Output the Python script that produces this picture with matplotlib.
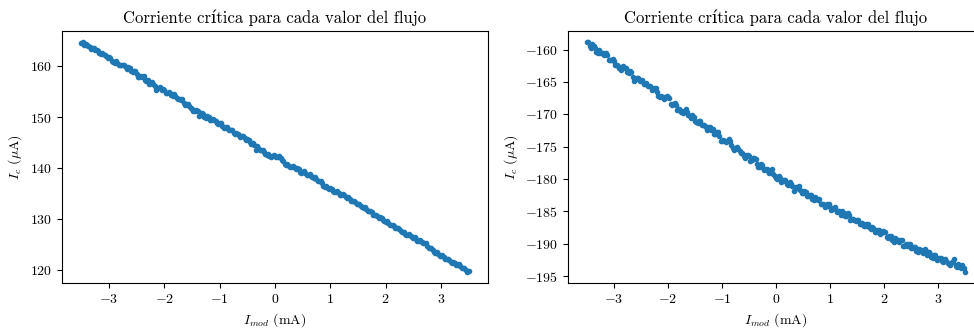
import numpy as np
import matplotlib
matplotlib.use("Agg")
import matplotlib.pyplot as plt

# ---- data ----
# I_mod sweep (mA): main grid and interleaved half-step grid
x_start, x_end = -3.5, 3.5
x_start_mid, x_end_mid = -3.475, 3.475

ic_left = [
    164.5, 164.2, 164.2, 163.8, 163.7, 163.2, 163.1, 162.4, 162.5, 162.0,
    161.8, 161.1, 160.6, 160.6, 160.2, 160.2, 159.8, 159.8, 159.1, 159.0,
    158.5, 158.0, 158.0, 157.3, 157.3, 156.7, 156.6, 155.3, 155.8, 155.4,
    155.3, 154.8, 154.7, 154.2, 154.2, 153.5, 153.4, 152.9, 152.7, 152.3,
    151.7, 151.2, 151.2, 150.4, 150.6, 149.9, 150.0, 149.5, 149.5, 148.9,
    148.8, 148.3, 148.1, 147.7, 147.6, 147.0, 146.9, 146.5, 146.4, 145.9,
    145.7, 145.1, 144.9, 143.6, 143.9, 143.5, 143.1, 142.6, 142.4, 142.3,
    142.3, 142.2, 142.0, 141.4, 140.7, 140.4, 140.3, 140.2, 140.1, 139.3,
    139.3, 139.1, 138.6, 138.5, 138.1, 137.9, 137.4, 137.0, 136.4, 136.2,
    136.1, 135.5, 135.4, 135.2, 134.8, 134.7, 134.2, 133.9, 133.5, 133.3,
    133.0, 132.6, 132.2, 132.0, 131.5, 131.3, 130.8, 130.6, 130.4, 129.9,
    129.5, 129.3, 128.8, 128.6, 128.2, 128.0, 127.5, 127.1, 126.9, 126.6,
    126.3, 126.1, 125.7, 125.5, 125.3, 124.8, 124.3, 124.0, 123.4, 123.2,
    122.8, 122.6, 122.1, 121.9, 121.4, 121.4, 120.9, 120.8, 120.4, 120.1,
    119.9,
]

ic_left_mid = [
    164.7, 164.4, 164.1, 163.4, 163.7, 163.2, 162.6, 162.7, 162.3, 161.6,
    161.6, 160.8, 161.0, 160.2, 160.2, 160.3, 159.4, 159.6, 158.9, 159.1,
    158.0, 158.2, 158.1, 157.2, 156.6, 157.0, 156.1, 155.7, 155.9, 155.5,
    154.8, 155.0, 154.4, 154.6, 153.7, 153.5, 153.5, 152.4, 152.6, 151.8,
    151.2, 151.5, 150.3, 150.8, 150.0, 150.3, 149.5, 149.7, 149.3, 148.7,
    148.8, 147.9, 148.1, 147.6, 147.6, 146.8, 146.8, 146.2, 146.4, 145.6,
    145.6, 144.8, 144.6, 144.3, 143.5, 143.5, 142.8, 142.7, 142.2, 142.5,
    142.2, 142.3, 141.6, 140.9, 140.8, 140.2, 140.5, 139.9, 139.8, 139.1,
    139.4, 138.7, 138.9, 138.2, 138.2, 137.5, 137.4, 136.6, 136.6, 136.0,
    135.9, 135.3, 135.5, 134.8, 135.0, 134.4, 134.3, 133.5, 133.6, 132.9,
    133.0, 132.3, 132.3, 131.6, 131.6, 130.9, 130.9, 130.3, 130.3, 129.6,
    129.6, 128.9, 128.9, 128.3, 128.3, 127.6, 127.5, 126.8, 127.0, 126.4,
    126.4, 125.7, 125.8, 125.3, 125.3, 124.4, 124.4, 123.6, 123.5, 122.8,
    122.9, 122.2, 122.2, 121.5, 121.6, 121.0, 121.1, 120.4, 120.4, 119.7,
]

ic_right = [
    -158.9, -159.4, -159.2, -159.7, -160.5, -160.5, -160.5, -160.6, -161.6, -161.6,
    -161.7, -162.4, -162.9, -162.7, -162.8, -163.5, -163.3, -164.2, -164.6, -164.4,
    -164.9, -165.3, -165.1, -165.6, -166.2, -166.0, -166.5, -167.3, -167.3, -167.3,
    -167.4, -168.4, -168.4, -168.5, -169.2, -169.7, -169.5, -169.6, -170.3, -170.1,
    -171.0, -171.4, -171.1, -171.6, -172.0, -171.9, -172.4, -173.0, -172.8, -173.3,
    -174.1, -174.1, -174.1, -174.2, -175.2, -175.2, -175.3, -176.0, -176.5, -176.3,
    -176.4, -177.1, -176.8, -177.7, -178.1, -177.9, -178.4, -178.8, -178.7, -179.2,
    -179.8, -179.6, -180.4, -180.2, -180.8, -180.5, -181.1, -181.6, -181.3, -181.7,
    -182.2, -182.0, -182.6, -182.5, -183.2, -183.1, -183.1, -183.8, -184.3, -183.9,
    -184.3, -184.7, -184.4, -184.9, -185.5, -185.2, -185.7, -185.5, -186.2, -186.3,
    -186.3, -187.0, -186.8, -187.2, -187.0, -187.7, -187.6, -188.2, -187.9, -188.3,
    -188.2, -188.9, -188.8, -189.4, -189.1, -189.6, -189.4, -190.3, -190.0, -190.0,
    -190.6, -190.5, -191.1, -190.8, -191.2, -190.8, -191.7, -191.6, -192.2, -191.8,
    -192.3, -192.2, -192.8, -192.6, -193.1, -192.8, -192.3, -193.6, -193.4, -193.3,
    -194.3,
]

ic_right_mid = [
    -158.9, -159.7, -159.4, -160.3, -160.1, -160.6, -160.9, -160.9, -161.6, -161.4,
    -162.4, -162.6, -163.2, -162.6, -162.8, -163.6, -163.5, -164.8, -164.4, -164.9,
    -164.7, -165.3, -165.7, -165.7, -166.1, -166.0, -167.2, -167.2, -167.7, -167.2,
    -167.5, -168.6, -168.2, -169.3, -169.4, -169.8, -169.2, -170.1, -170.5, -170.4,
    -171.2, -171.0, -171.7, -171.7, -172.4, -172.0, -172.3, -173.1, -172.8, -174.1,
    -174.0, -174.3, -173.8, -174.8, -175.5, -175.1, -175.7, -176.0, -176.7, -176.3,
    -177.2, -176.8, -176.9, -178.1, -177.7, -178.6, -178.5, -179.0, -178.4, -179.6,
    -180.0, -179.8, -180.3, -180.2, -181.0, -180.7, -181.8, -181.3, -181.1, -182.2,
    -181.8, -182.7, -182.5, -183.1, -182.8, -183.2, -183.8, -183.9, -184.1, -183.8,
    -184.8, -184.5, -185.1, -185.0, -185.0, -185.7, -185.3, -186.3, -186.2, -186.5,
    -186.3, -187.0, -187.3, -186.9, -187.4, -187.4, -188.2, -187.9, -188.5, -188.1,
    -188.2, -189.1, -188.8, -189.7, -189.3, -189.7, -189.5, -190.3, -190.3, -190.1,
    -190.6, -190.5, -191.3, -190.9, -191.4, -191.1, -191.3, -192.1, -191.7, -192.5,
    -192.2, -192.7, -192.3, -193.0, -193.3, -192.8, -193.4, -193.2, -193.7, -193.7,
]

title_text = "Corriente crítica para cada valor del flujo"
xlabel_text = r"$I_{mod}$ (mA)"
ylabel_text = r"$I_c$ ($\mu$A)"
xtick_values = [-3, -2, -1, 0, 1, 2, 3]
ytick_right = [-160, -165, -170, -175, -180, -185, -190, -195]

# ---- assemble series ----
def sweep(main, mid):
    xs = np.concatenate([np.linspace(x_start, x_end, len(main)),
                         np.linspace(x_start_mid, x_end_mid, len(mid))])
    ys = np.concatenate([main, mid])
    order = np.argsort(xs, kind="stable")
    return xs[order], ys[order]

xl, yl = sweep(ic_left, ic_left_mid)
xr, yr = sweep(ic_right, ic_right_mid)

# ---- style ----
plt.rcParams["font.family"] = ["cmr10", "DejaVu Serif"]
plt.rcParams["mathtext.fontset"] = "cm"
plt.rcParams["axes.formatter.use_mathtext"] = True
plt.rcParams["font.size"] = 10

fig = plt.figure(figsize=(9.74, 3.29), dpi=100)
ax1 = fig.add_axes([62 / 974, 46 / 329, 426 / 974, 252 / 329])
ax2 = fig.add_axes([568 / 974, 46 / 329, 416 / 974, 252 / 329])

for ax, xs, ys in ((ax1, xl, yl), (ax2, xr, yr)):
    ax.plot(xs, ys, ".", color="C0")
    ax.set_title(title_text, fontsize=12)
    ax.set_xlabel(xlabel_text)
    ax.set_ylabel(ylabel_text)
    ax.set_xticks(xtick_values)

ax2.set_yticks(ytick_right)

fig.savefig("out.png", dpi=100)
